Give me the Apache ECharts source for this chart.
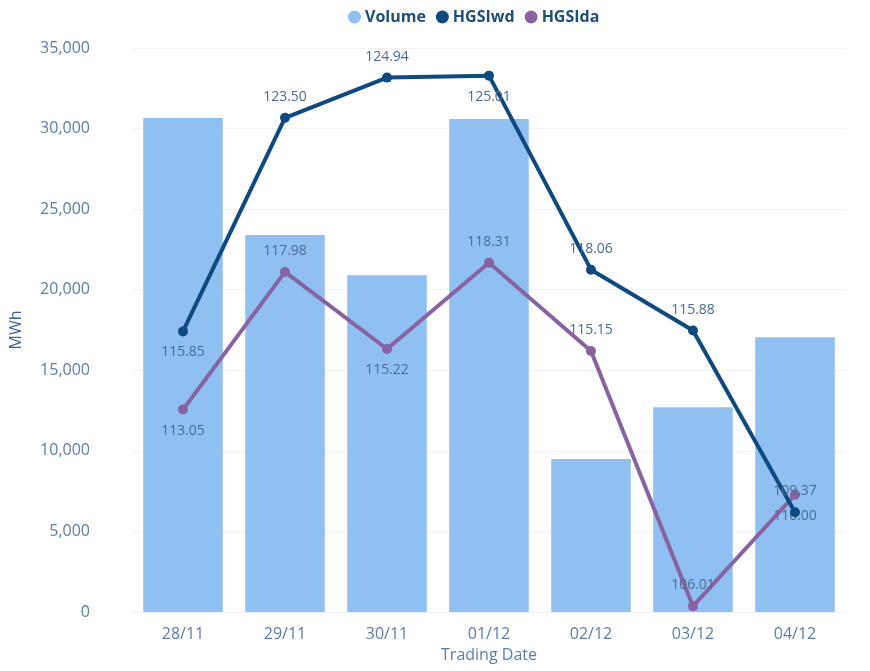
<!DOCTYPE html>
<html><head><meta charset="utf-8">
<script src="https://cdn.jsdelivr.net/npm/echarts@6/dist/echarts.min.js"></script>
<style>html,body{margin:0;padding:0;background:#fff}#c{width:870px;height:671px}</style>
</head><body><div id="c"></div>
<script>
const categories = ['28/11','29/11','30/11','01/12','02/12','03/12','04/12'];
const volume = [30650, 23400, 20900, 30600, 9500, 12700, 17050];
const hgsiwd = [115.85, 123.50, 124.94, 125.01, 118.06, 115.88, 109.37];
const hgsida = [113.05, 117.98, 115.22, 118.31, 115.15, 106.01, 110.00];
const wdLabelPos = ['bottom','top','top','bottom','top','top','top'];
const daLabelPos = ['bottom','top','bottom','top','top','top','bottom'];
const yTicks = [0,5000,10000,15000,20000,25000,30000,35000];

const font = '"Segoe UI","Open Sans","Noto Sans",sans-serif';
const labelColor = '#5b7ea6';
function mk(vals, pos){
  return vals.map((v,i)=>({value:v,label:{position:pos[i]}}));
}
const chart = echarts.init(document.getElementById('c'));
chart.setOption({
  animation:false,
  textStyle:{fontFamily:font},
  legend:{
    top:4, left:343, itemGap:10, itemWidth:13, itemHeight:13,
    icon:'circle',
    textStyle:{fontFamily:font,fontWeight:'bold',fontSize:16,color:'#1f4e79',padding:[0,0,0,-1]},
    data:['Volume','HGSIwd','HGSIda']
  },
  grid:{left:132,right:24,top:48,bottom:59,containLabel:false,outerBoundsMode:'none'},
  xAxis:{
    type:'category', data:categories,
    name:'Trading Date', nameLocation:'middle', nameGap:35,
    nameTextStyle:{fontFamily:font,fontSize:16,color:labelColor},
    axisLine:{show:true,lineStyle:{color:'#f0f0f0'}}, axisTick:{show:false},
    axisLabel:{fontFamily:font,fontSize:16,color:labelColor,margin:14}
  },
  yAxis:[{
    type:'value', min:yTicks[0], max:yTicks[yTicks.length-1], interval:5000,
    name:'MWh', nameLocation:'middle', nameGap:108, nameRotate:90,
    nameTextStyle:{fontFamily:font,fontSize:16,color:'#3d6796'},
    axisLine:{show:false}, axisTick:{show:false},
    axisLabel:{fontFamily:font,fontSize:16,color:labelColor,margin:42,
      formatter:v=>v.toLocaleString('en-US')},
    splitLine:{lineStyle:{color:'#f2f2f2',width:1}}
  },{
    type:'value', min:105.8, max:126.0, show:false, splitLine:{show:false}
  }],
  series:[{
    name:'Volume', type:'bar', data:volume, barWidth:'78%',
    itemStyle:{color:'#8fc0f1'}, z:1
  },{
    name:'HGSIwd', type:'line', yAxisIndex:1, data:mk(hgsiwd,wdLabelPos),
    symbol:'circle', symbolSize:10,
    lineStyle:{color:'#0e4a80',width:4}, itemStyle:{color:'#0e4a80'},
    label:{show:true,fontFamily:font,fontSize:14,color:'#4d6b91',distance:9,
      formatter:p=>p.value.toFixed(2)}, z:3
  },{
    name:'HGSIda', type:'line', yAxisIndex:1, data:mk(hgsida,daLabelPos),
    symbol:'circle', symbolSize:10,
    lineStyle:{color:'#8763a3',width:4}, itemStyle:{color:'#8763a3'},
    label:{show:true,fontFamily:font,fontSize:14,color:'#4d6b91',distance:9,
      formatter:p=>p.value.toFixed(2)}, z:2
  }]
});
</script></body></html>
